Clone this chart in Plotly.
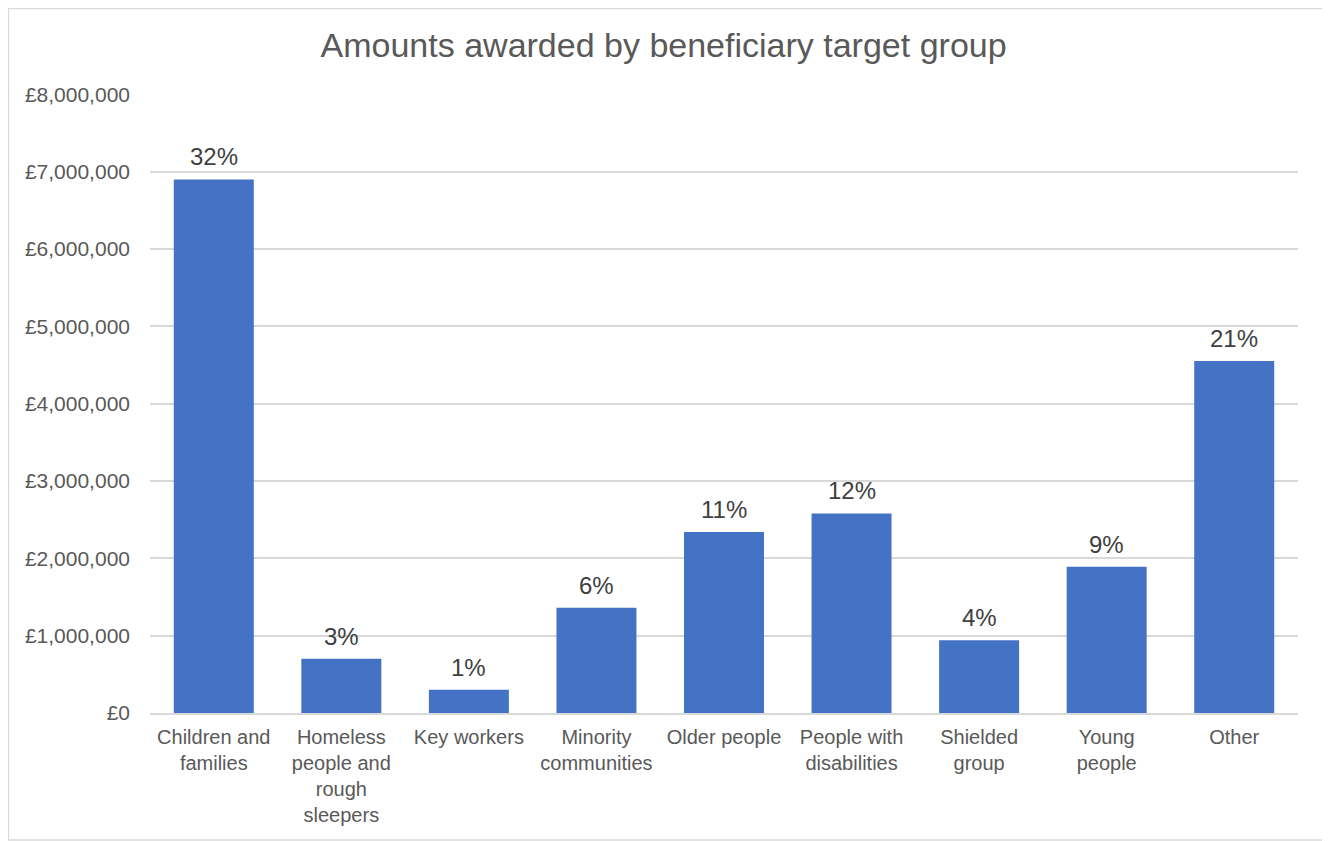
import plotly.graph_objects as go

categories = ["Children and<br>families", "Homeless<br>people and<br>rough<br>sleepers", "Key workers",
              "Minority<br>communities", "Older people", "People with<br>disabilities",
              "Shielded<br>group", "Young<br>people", "Other"]
amounts = [6900000, 700000, 300000, 1360000, 2340000, 2580000, 940000, 1890000, 4550000]
percent_labels = ["32%", "3%", "1%", "6%", "11%", "12%", "4%", "9%", "21%"]
y_ticks = [0, 1000000, 2000000, 3000000, 4000000, 5000000, 6000000, 7000000, 8000000]
y_tick_text = ["£" + format(v, ",") for v in y_ticks]

FONT = "Liberation Sans, Arial, sans-serif"

fig = go.Figure()
fig.add_trace(go.Bar(
    x=categories, y=amounts,
    marker=dict(color="#4472C4", line=dict(width=0)),
    hoverinfo="x+y",
))

for c, v, t in zip(categories, amounts, percent_labels):
    fig.add_annotation(x=c, y=v, text=t, showarrow=False, yanchor="bottom", yshift=7,
                       font=dict(family=FONT, size=24, color="#404040"))

fig.add_shape(type="rect", xref="paper", yref="paper",
              x0=-0.1233, x1=1.0226, y0=-0.205, y1=1.138,
              line=dict(color="#D9D9D9", width=1.5), fillcolor="rgba(0,0,0,0)", layer="below")

fig.update_layout(
    width=1322, height=833,
    margin=dict(l=142, r=32, t=86, b=128),
    paper_bgcolor="white", plot_bgcolor="white",
    bargap=0.373,
    showlegend=False,
    title=dict(text="Amounts awarded by beneficiary target group", x=0.4959, xref="container",
               xanchor="center", y=0.9556, yanchor="middle",
               font=dict(family=FONT, size=34, color="#595959")),
    font=dict(family=FONT, color="#595959"),
)
fig.update_xaxes(tickfont=dict(family=FONT, size=20, color="#595959"),
                 showline=True, linecolor="#D9D9D9", linewidth=1.5,
                 ticks="", showgrid=False, tickangle=0, ticklabelstandoff=5)
fig.update_yaxes(range=[0, 8004000], tickvals=y_ticks, ticktext=y_tick_text,
                 tickfont=dict(family=FONT, size=21, color="#595959"),
                 showgrid=True, gridcolor="#D9D9D9", gridwidth=1.5,
                 zeroline=False, showline=False, ticks="", ticklabelstandoff=19)

fig.write_html("out.html")
